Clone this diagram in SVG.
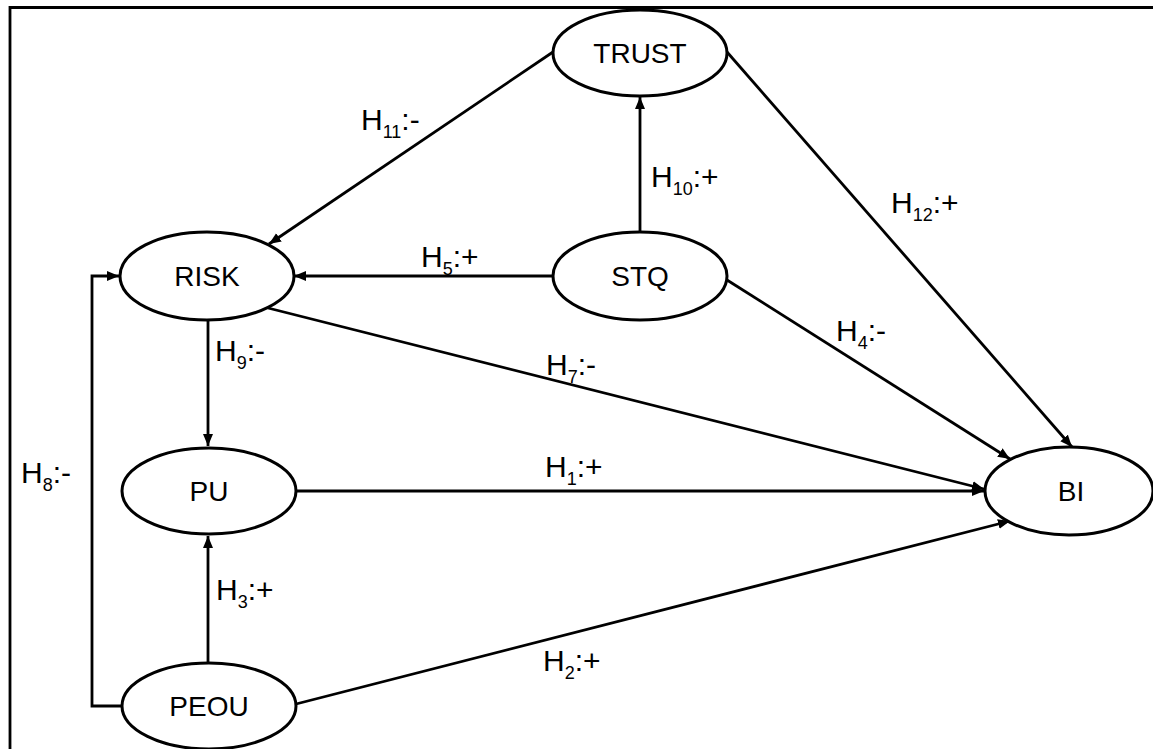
<svg xmlns="http://www.w3.org/2000/svg" width="1153" height="749" viewBox="0 0 1153 749">
<style>
.node ellipse{fill:#fff;stroke:#000;stroke-width:3}
.node text{font-family:"Liberation Sans",Arial,sans-serif;font-size:28px;fill:#000;text-anchor:middle}
.lbl{font-family:"Liberation Sans",Arial,sans-serif;font-size:30px;fill:#000}
.sub{font-size:18px}
#connectors path{fill:none;stroke:#000;stroke-width:2.8;marker-end:url(#arr)}
</style>
<defs>
<marker id="arr" markerUnits="userSpaceOnUse" markerWidth="13" markerHeight="11" refX="12" refY="5" orient="auto">
<path d="M0,0 L12,5 L0,10 z" fill="#000"/>
</marker>
</defs>
<rect width="1153" height="749" fill="#fff"/>
<path d="M10,760 V7.5 H1160" fill="none" stroke="#000" stroke-width="2.8"/>
<g id="connectors">
<path d="M640,232 V97"/>
<path d="M553,52 L269,244"/>
<path d="M727,52 L1072,447"/>
<path d="M554,276 H294"/>
<path d="M727,280 L1010,459"/>
<path d="M268,308 L984,489"/>
<path d="M208,320 V446"/>
<path d="M296,491 H984"/>
<path d="M208,663 V536"/>
<path d="M296,704 L1010,521"/>
<path d="M122,706 H92 V276 H119"/>
</g>
<g id="labels">
<text class="lbl" x="361" y="130">H<tspan class="sub" dy="8">11</tspan><tspan dy="-8">:-</tspan></text>
<text class="lbl" x="651" y="187">H<tspan class="sub" dy="8">10</tspan><tspan dy="-8">:+</tspan></text>
<text class="lbl" x="891" y="213">H<tspan class="sub" dy="8">12</tspan><tspan dy="-8">:+</tspan></text>
<text class="lbl" x="421" y="267">H<tspan class="sub" dy="8">5</tspan><tspan dy="-8">:+</tspan></text>
<text class="lbl" x="836" y="341">H<tspan class="sub" dy="8">4</tspan><tspan dy="-8">:-</tspan></text>
<text class="lbl" x="546" y="375">H<tspan class="sub" dy="8">7</tspan><tspan dy="-8">:-</tspan></text>
<text class="lbl" x="215" y="361">H<tspan class="sub" dy="8">9</tspan><tspan dy="-8">:-</tspan></text>
<text class="lbl" x="545" y="477">H<tspan class="sub" dy="8">1</tspan><tspan dy="-8">:+</tspan></text>
<text class="lbl" x="21" y="483">H<tspan class="sub" dy="8">8</tspan><tspan dy="-8">:-</tspan></text>
<text class="lbl" x="216" y="600">H<tspan class="sub" dy="8">3</tspan><tspan dy="-8">:+</tspan></text>
<text class="lbl" x="543" y="671">H<tspan class="sub" dy="8">2</tspan><tspan dy="-8">:+</tspan></text>
</g>
<g id="node-trust" class="node"><ellipse cx="640" cy="53" rx="87" ry="43"/><text x="640" y="63">TRUST</text></g>
<g id="node-risk" class="node"><ellipse cx="207" cy="276" rx="87" ry="44"/><text x="207" y="286">RISK</text></g>
<g id="node-stq" class="node"><ellipse cx="640" cy="276" rx="87" ry="44"/><text x="640" y="286">STQ</text></g>
<g id="node-pu" class="node"><ellipse cx="209" cy="491" rx="87" ry="43"/><text x="209" y="501">PU</text></g>
<g id="node-peou" class="node"><ellipse cx="209" cy="706" rx="87" ry="43"/><text x="209" y="716">PEOU</text></g>
<g id="node-bi" class="node"><ellipse cx="1069" cy="491" rx="84" ry="44"/><text x="1071" y="501">BI</text></g>
</svg>
